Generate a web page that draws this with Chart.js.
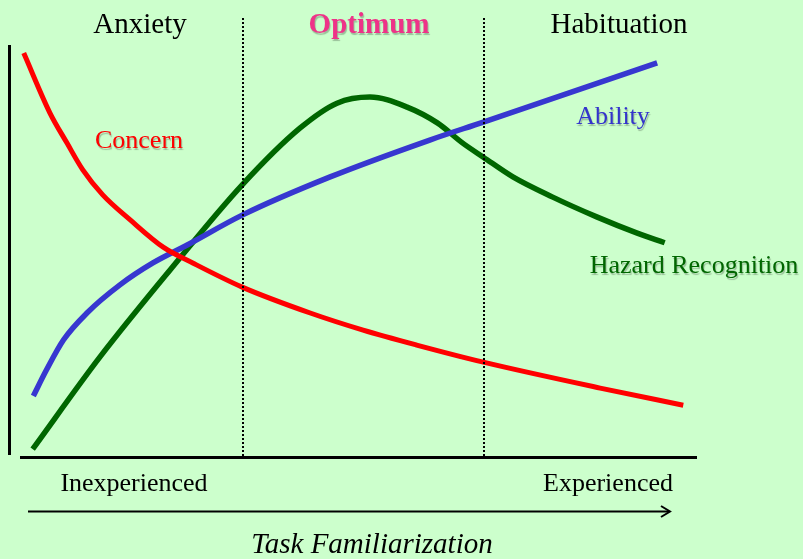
<!DOCTYPE html>
<html>
<head>
<meta charset="utf-8">
<script src="https://cdn.jsdelivr.net/npm/chart.js@4.4.0/dist/chart.umd.min.js"></script>
<style>
  html, body { margin: 0; padding: 0; background: #ccffcc; }
  #wrap { width: 803px; height: 559px; }
</style>
</head>
<body>
<div id="wrap"><canvas id="c" width="803" height="559"></canvas></div>
<script>
// Task familiarization (0 = inexperienced, 100 = experienced) and curve levels (0-100)
const concernX = [2.0, 5.8, 8.3, 10.6, 13.5, 17.5, 22.3, 26.6, 33.8, 43.7, 51.4, 59.2, 68.9, 85.9, 98.0];
const concernY = [92.0, 78.4, 71.5, 65.4, 59.7, 54.0, 47.8, 44.2, 38.7, 32.8, 28.9, 25.5, 21.6, 15.7, 11.8];

const abilityX = [3.4, 5.3, 7.8, 11.2, 16.0, 20.8, 25.8, 33.8, 46.6, 61.1, 68.9, 94.2];
const abilityY = [13.9, 19.8, 26.7, 32.8, 39.2, 44.2, 48.3, 55.1, 63.8, 72.2, 76.3, 89.8];

const hazardX = [3.3, 13.1, 23.3, 33.8, 42.2, 47.6, 52.4, 57.8, 62.2, 65.9, 68.9, 73.2, 79.0, 85.4, 91.3, 95.3];
const hazardY = [1.8, 22.8, 42.6, 62.0, 74.9, 80.6, 82.0, 79.7, 76.1, 71.5, 68.3, 63.8, 59.2, 54.7, 51.0, 48.8];

const seriesNames = ["Concern", "Ability", "Hazard Recognition"];
const zoneNames = ["Anxiety", "Optimum", "Habituation"];
const zoneBounds = [33.9, 69.0];
const axisLabels = ["Inexperienced", "Experienced"];
const axisTitle = "Task Familiarization";

const toPts = (xs, ys) => xs.map((x, i) => ({ x: x, y: ys[i] }));

const decor = {
  id: 'decor',
  beforeDraw(chart) {
    const ctx = chart.ctx;
    ctx.save();
    ctx.fillStyle = '#ccffcc';
    ctx.fillRect(0, 0, chart.width, chart.height);
    ctx.restore();
  },
  afterDatasetsDraw(chart) {
    const ctx = chart.ctx;
    const a = chart.chartArea;
    const xs = chart.scales.x;
    ctx.save();
    // vertical axis
    ctx.strokeStyle = '#000';
    ctx.lineWidth = 3;
    ctx.beginPath();
    ctx.moveTo(a.left - 0.5, 45);
    ctx.lineTo(a.left - 0.5, 455);
    ctx.stroke();
    // horizontal axis
    ctx.lineWidth = 3;
    ctx.beginPath();
    ctx.moveTo(a.left + 10, a.bottom + 0.5);
    ctx.lineTo(a.right, a.bottom + 0.5);
    ctx.stroke();
    // zone separators (dotted)
    ctx.lineWidth = 2;
    ctx.setLineDash([2, 2]);
    zoneBounds.forEach(v => {
      const px = Math.round(xs.getPixelForValue(v));
      ctx.beginPath();
      ctx.moveTo(px, a.top);
      ctx.lineTo(px, a.bottom - 1);
      ctx.stroke();
    });
    ctx.setLineDash([]);
    // arrow
    ctx.lineWidth = 2;
    ctx.beginPath();
    ctx.moveTo(28, 511.5);
    ctx.lineTo(669, 511.5);
    ctx.stroke();
    ctx.beginPath();
    ctx.moveTo(661, 506);
    ctx.lineTo(670, 511.5);
    ctx.lineTo(661, 517);
    ctx.stroke();

    ctx.textBaseline = 'alphabetic';
    ctx.textAlign = 'center';
    // zone titles
    ctx.fillStyle = '#000';
    ctx.font = '29px "Liberation Serif", "Times New Roman", serif';
    ctx.fillText(zoneNames[0], 140, 33);
    ctx.fillText(zoneNames[2], 619, 33);

    const shadow = (on) => {
      ctx.shadowColor = on ? 'rgba(0,0,0,0.25)' : 'transparent';
      ctx.shadowOffsetX = on ? 1 : 0;
      ctx.shadowOffsetY = on ? 2 : 0;
      ctx.shadowBlur = on ? 1 : 0;
    };
    shadow(true);
    ctx.fillStyle = '#ee3388';
    ctx.font = 'bold 29px "Liberation Serif", "Times New Roman", serif';
    ctx.fillText(zoneNames[1], 369, 33);

    ctx.font = '26px "Liberation Serif", "Times New Roman", serif';
    ctx.fillStyle = '#ff0000';
    ctx.fillText(seriesNames[0], 139, 148);
    ctx.fillStyle = '#3333cc';
    ctx.fillText(seriesNames[1], 613, 124);
    ctx.fillStyle = '#006600';
    ctx.fillText(seriesNames[2], 694, 273);
    shadow(false);

    // axis end labels and title
    ctx.fillStyle = '#000';
    ctx.font = '26px "Liberation Serif", "Times New Roman", serif';
    ctx.fillText(axisLabels[0], 134, 491);
    ctx.fillText(axisLabels[1], 608, 491);
    ctx.font = 'italic 29px "Liberation Serif", "Times New Roman", serif';
    ctx.fillText(axisTitle, 372, 553);
    ctx.restore();
  }
};

new Chart(document.getElementById('c'), {
  type: 'line',
  data: {
    datasets: [
      { label: seriesNames[0], data: toPts(concernX, concernY), borderColor: '#ff0000', borderWidth: 5 },
      { label: seriesNames[1], data: toPts(abilityX, abilityY), borderColor: '#3737d0', borderWidth: 5.5 },
      { label: seriesNames[2], data: toPts(hazardX, hazardY), borderColor: '#006600', borderWidth: 5.5 }
    ]
  },
  options: {
    responsive: false,
    animation: false,
    events: [],
    layout: { padding: { left: 10, right: 106, top: 18, bottom: 102 } },
    elements: {
      point: { radius: 0 },
      line: { cubicInterpolationMode: 'monotone', borderCapStyle: 'butt', borderJoinStyle: 'round', fill: false }
    },
    plugins: { legend: { display: false }, tooltip: { enabled: false } },
    scales: {
      x: { type: 'linear', min: 0, max: 100, display: false },
      y: { type: 'linear', min: 0, max: 100, display: false }
    }
  },
  plugins: [decor]
});
</script>
</body>
</html>
